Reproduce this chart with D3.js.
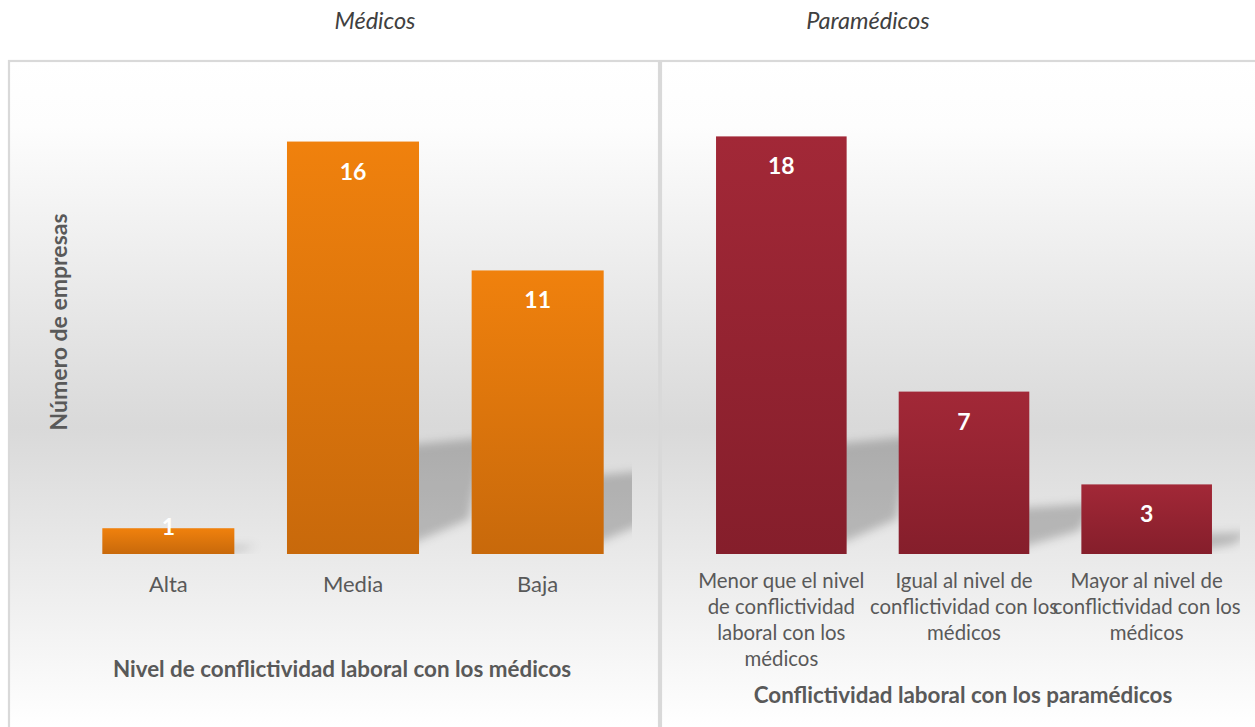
<!DOCTYPE html>
<html>
<head>
<meta charset="utf-8">
<script src="https://cdn.jsdelivr.net/npm/d3@7"></script>
<style>
  html, body { margin: 0; padding: 0; background: #ffffff; }
  svg { display: block; font-family: Lato, "Open Sans", sans-serif; }
</style>
</head>
<body>
<svg id="chart" width="1255" height="727"></svg>
<script>
// Panel 1: level of labour conflict with doctors
const medicosTitle = "Médicos";
const medicosCategories = ["Alta", "Media", "Baja"];
const medicosValues = [1, 16, 11];
const medicosAxisTitle = "Nivel de conflictividad laboral con los médicos";
const medicosYMax = 18;

// Panel 2: labour conflict with paramedics
const paramedicosTitle = "Paramédicos";
const paramedicosCategories = [
  ["Menor que el nivel", "de conflictividad", "laboral con los", "médicos"],
  ["Igual al nivel de", "conflictividad con los", "médicos"],
  ["Mayor al nivel de", "conflictividad con los", "médicos"]
];
const paramedicosValues = [18, 7, 3];
const paramedicosAxisTitle = "Conflictividad laboral con los paramédicos";
const paramedicosYMax = 20;

const yAxisTitle = "Número de empresas";

const svg = d3.select("#chart");
const defs = svg.append("defs");

// Panel background: white top, grey band around the baseline, white bottom
const bg = defs.append("linearGradient").attr("id", "panelBg")
  .attr("gradientUnits", "userSpaceOnUse")
  .attr("x1", 0).attr("y1", 60).attr("x2", 0).attr("y2", 727);
[[0, "#ffffff"], [0.1, "#fdfdfd"], [0.55, "#d9d9d9"], [1, "#ffffff"]]
  .forEach(([o, c]) => bg.append("stop").attr("offset", o).attr("stop-color", c));

function barGradient(id, top, bottom) {
  const g = defs.append("linearGradient").attr("id", id)
    .attr("x1", 0).attr("y1", 0).attr("x2", 0).attr("y2", 1);
  g.append("stop").attr("offset", 0).attr("stop-color", top);
  g.append("stop").attr("offset", 1).attr("stop-color", bottom);
}
barGradient("orangeBar", "#f0810d", "#c8690b");
barGradient("redBar", "#a22837", "#851e2b");

defs.append("filter").attr("id", "shadowBlur")
  .attr("x", "-30%").attr("y", "-30%").attr("width", "160%").attr("height", "160%")
  .append("feGaussianBlur").attr("stdDeviation", 5);

// Panel frames
const panels = [
  { x: 9, w: 650 },
  { x: 661, w: 620 }
];
panels.forEach(p => {
  svg.append("rect")
    .attr("x", p.x).attr("y", 61).attr("width", p.w).attr("height", 700)
    .attr("fill", "url(#panelBg)")
    .attr("stroke", "#d9d9d9").attr("stroke-width", 2.2);
});

const baseline = 554, plotTop = 90;

function drawPanel(cfg) {
  const x = d3.scaleBand().domain(d3.range(cfg.values.length))
    .range(cfg.xRange).paddingInner(0.285).paddingOuter(0.1425);
  const y = d3.scaleLinear().domain([0, cfg.yMax]).range([baseline, plotTop]);

  const clipId = "clip" + cfg.id;
  defs.append("clipPath").attr("id", clipId)
    .append("rect").attr("x", cfg.clip[0]).attr("y", 60)
    .attr("width", cfg.clip[1] - cfg.clip[0]).attr("height", baseline - 60);

  // Perspective shadows cast up and to the right behind the bars
  const shadows = svg.append("g").attr("clip-path", `url(#${clipId})`)
    .append("g").attr("filter", "url(#shadowBlur)");
  cfg.values.forEach((v, i) => {
    const x0 = x(i), x1 = x(i) + x.bandwidth();
    const h = 0.24 * (baseline - y(v));
    const dy = Math.min(35, 0.6 * h);
    const ext = Math.min(50, 1.3 * h);
    const sx = 15;
    const pts = [
      [x0 + 100, baseline],
      [x1 + ext, baseline - dy],
      [x1 + ext + sx, baseline - h - dy * 0.5],
      [x0 + sx, baseline - h]
    ];
    shadows.append("path")
      .attr("d", d3.line()(pts) + "Z")
      .attr("fill", "#000").attr("fill-opacity", 0.21);
  });

  // Bars
  svg.append("g").selectAll("rect").data(cfg.values).join("rect")
    .attr("x", (d, i) => x(i))
    .attr("y", d => y(d))
    .attr("width", x.bandwidth())
    .attr("height", d => baseline - y(d))
    .attr("fill", `url(#${cfg.fill})`);

  // Value labels, inside the top of each bar
  svg.append("g").selectAll("text").data(cfg.values).join("text")
    .attr("x", (d, i) => x(i) + x.bandwidth() / 2)
    .attr("y", d => Math.min(y(d) + 30, baseline - 27))
    .attr("dy", "0.35em")
    .attr("text-anchor", "middle")
    .attr("fill", "#ffffff")
    .attr("font-weight", "bold")
    .attr("font-size", 23)
    .text(d => d);

  // Category labels
  const cats = svg.append("g").selectAll("text").data(cfg.categories).join("text")
    .attr("text-anchor", "middle")
    .attr("fill", "#595959")
    .attr("font-size", cfg.catSize)
    .attr("y", cfg.catY);
  cats.each(function(c, i) {
    const lines = Array.isArray(c) ? c : [c];
    const t = d3.select(this);
    lines.forEach((ln, k) => {
      t.append("tspan")
        .attr("x", x(i) + x.bandwidth() / 2)
        .attr("dy", k === 0 ? 0 : 26)
        .text(ln);
    });
  });

  // Axis title
  svg.append("text")
    .attr("x", cfg.axisTitlePos[0]).attr("y", cfg.axisTitlePos[1])
    .attr("text-anchor", "middle")
    .attr("fill", "#595959")
    .attr("font-weight", "bold")
    .attr("font-size", 22.4)
    .text(cfg.axisTitle);

  // Panel title above the frame
  svg.append("text")
    .attr("x", cfg.titlePos).attr("y", 29)
    .attr("text-anchor", "middle")
    .attr("fill", "#404040")
    .attr("font-style", "italic")
    .attr("font-size", 23.5)
    .text(cfg.title);
}

drawPanel({
  id: "Med", values: medicosValues, categories: medicosCategories,
  yMax: medicosYMax, xRange: [76, 630], clip: [12, 632],
  fill: "orangeBar", catSize: 22, catY: 592,
  axisTitle: medicosAxisTitle, axisTitlePos: [342, 677],
  title: medicosTitle, titlePos: 375
});

drawPanel({
  id: "Par", values: paramedicosValues, categories: paramedicosCategories,
  yMax: paramedicosYMax, xRange: [690, 1238], clip: [663, 1240],
  fill: "redBar", catSize: 20.4, catY: 588,
  axisTitle: paramedicosAxisTitle, axisTitlePos: [963, 703],
  title: paramedicosTitle, titlePos: 868
});

// Shared y-axis title
svg.append("text")
  .attr("transform", "translate(67,322) rotate(-90)")
  .attr("text-anchor", "middle")
  .attr("fill", "#595959")
  .attr("font-weight", "bold")
  .attr("font-size", 23)
  .text(yAxisTitle);
</script>
</body>
</html>
